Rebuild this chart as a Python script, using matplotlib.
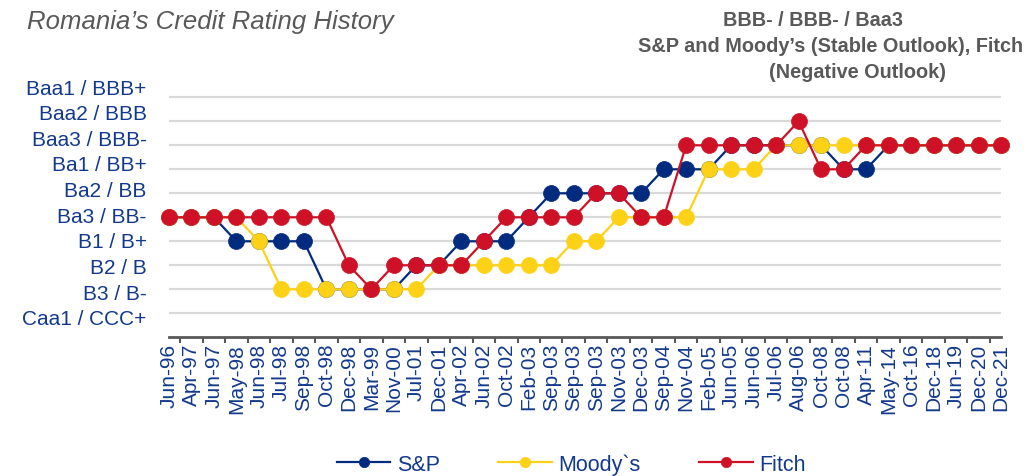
import numpy as np
import matplotlib
matplotlib.use('Agg')
import matplotlib.pyplot as plt
from matplotlib.ticker import FixedLocator

plt.rcParams['font.family'] = ['Liberation Sans', 'DejaVu Sans']

# Rating dates (category axis)
dates = ['Jun-96', 'Apr-97', 'Jun-97', 'May-98', 'Jun-98', 'Jul-98', 'Sep-98',
         'Oct-98', 'Dec-98', 'Mar-99', 'Nov-00', 'Jul-01', 'Dec-01', 'Apr-02',
         'Jun-02', 'Oct-02', 'Feb-03', 'Sep-03', 'Sep-03', 'Sep-03', 'Nov-03',
         'Dec-03', 'Sep-04', 'Nov-04', 'Feb-05', 'Jun-05', 'Jun-06', 'Jul-06',
         'Aug-06', 'Oct-08', 'Oct-08', 'Apr-11', 'May-14', 'Oct-16', 'Dec-18',
         'Jun-19', 'Dec-20', 'Dec-21']

# Rating scale, 1 = Caa1 / CCC+ ... 10 = Baa1 / BBB+
levels = [1, 2, 3, 4, 5, 6, 7, 8, 9, 10]
scale_labels = ['Caa1 / CCC+', 'B3 / B-', 'B2 / B', 'B1 / B+', 'Ba3 / BB-',
                'Ba2 / BB', 'Ba1 / BB+', 'Baa3 / BBB-', 'Baa2 / BBB', 'Baa1 / BBB+']

sp = [5, 5, 5, 4, 4, 4, 4, 2, 2, 2, 2, 3, 3, 4, 4, 4, 5, 6, 6, 6, 6, 6, 7, 7,
      7, 8, 8, 8, 8, 8, 7, 7, 8, 8, 8, 8, 8, 8]
moodys = [5, 5, 5, 5, 4, 2, 2, 2, 2, 2, 2, 2, 3, 3, 3, 3, 3, 3, 4, 4, 5, 5, 5, 5,
          7, 7, 7, 8, 8, 8, 8, 8, 8, 8, 8, 8, 8, 8]
fitch = [5, 5, 5, 5, 5, 5, 5, 5, 3, 2, 3, 3, 3, 3, 4, 5, 5, 5, 5, 6, 6, 5, 5, 8,
         8, 8, 8, 8, 9, 7, 7, 8, 8, 8, 8, 8, 8, 8]

navy = '#002B7F'
yellow = '#FCD116'
red = '#CE1126'
txt = '#12398C'
grey = '#595959'

fig = plt.figure(figsize=(10.29, 4.77), dpi=100)
ax = fig.add_axes([0.1642, 0.2908, 0.8086, 0.5534])

x = np.arange(len(dates))
ax.hlines(levels, 0, len(dates) - 1, color='#D9D9D9', lw=1.6, zorder=1)

for vals, col, name in [(sp, navy, 'S&P'), (moodys, yellow, 'Moody`s'), (fitch, red, 'Fitch')]:
    ax.plot(x, vals, color=col, lw=1.6, marker='o', ms=11.5, mec=col, mew=0.5,
            label=name, clip_on=False, zorder=3)

ax.set_xlim(0, len(dates) - 1)
ax.set_ylim(0, 11)

ax.set_xticks(x)
ax.set_xticklabels(dates, rotation=90, fontsize=15, color=txt)
ax.xaxis.set_minor_locator(FixedLocator(list(np.arange(0.5, len(dates) - 1, 1.0)) + [len(dates) - 1]))
ax.tick_params(axis='x', which='major', length=0, pad=4)
ax.tick_params(axis='x', which='minor', length=4, width=1.5, color=grey)

ax.set_yticks(np.linspace(0.85, 10.47, len(levels)))
ax.set_yticklabels(scale_labels, fontsize=15, color=txt)
ax.tick_params(axis='y', length=0, pad=16)

for s in ['top', 'right', 'left']:
    ax.spines[s].set_visible(False)
ax.spines['bottom'].set_color(grey)
ax.spines['bottom'].set_linewidth(2)

fig.text(0.026, 0.953, 'Romania\u2019s Credit Rating History', fontsize=18.5,
         style='italic', color=grey, ha='left', va='center')
fig.text(0.790, 0.958, 'BBB- / BBB- / Baa3', fontsize=14.3, fontweight='bold',
         color=grey, ha='center', va='center')
fig.text(0.807, 0.903, 'S&P and Moody\u2019s (Stable Outlook), Fitch', fontsize=14.3,
         fontweight='bold', color=grey, ha='center', va='center')
fig.text(0.833, 0.848, '(Negative Outlook)', fontsize=14.3, fontweight='bold',
         color=grey, ha='center', va='center')

fig.legend(loc='center', bbox_to_anchor=(0.555, 0.025), ncol=3, frameon=False,
           fontsize=15.5, labelcolor=txt, markerscale=0.65, handlelength=2.5,
           handletextpad=0.3, columnspacing=2.7)

fig.savefig('out.png', dpi=100)
